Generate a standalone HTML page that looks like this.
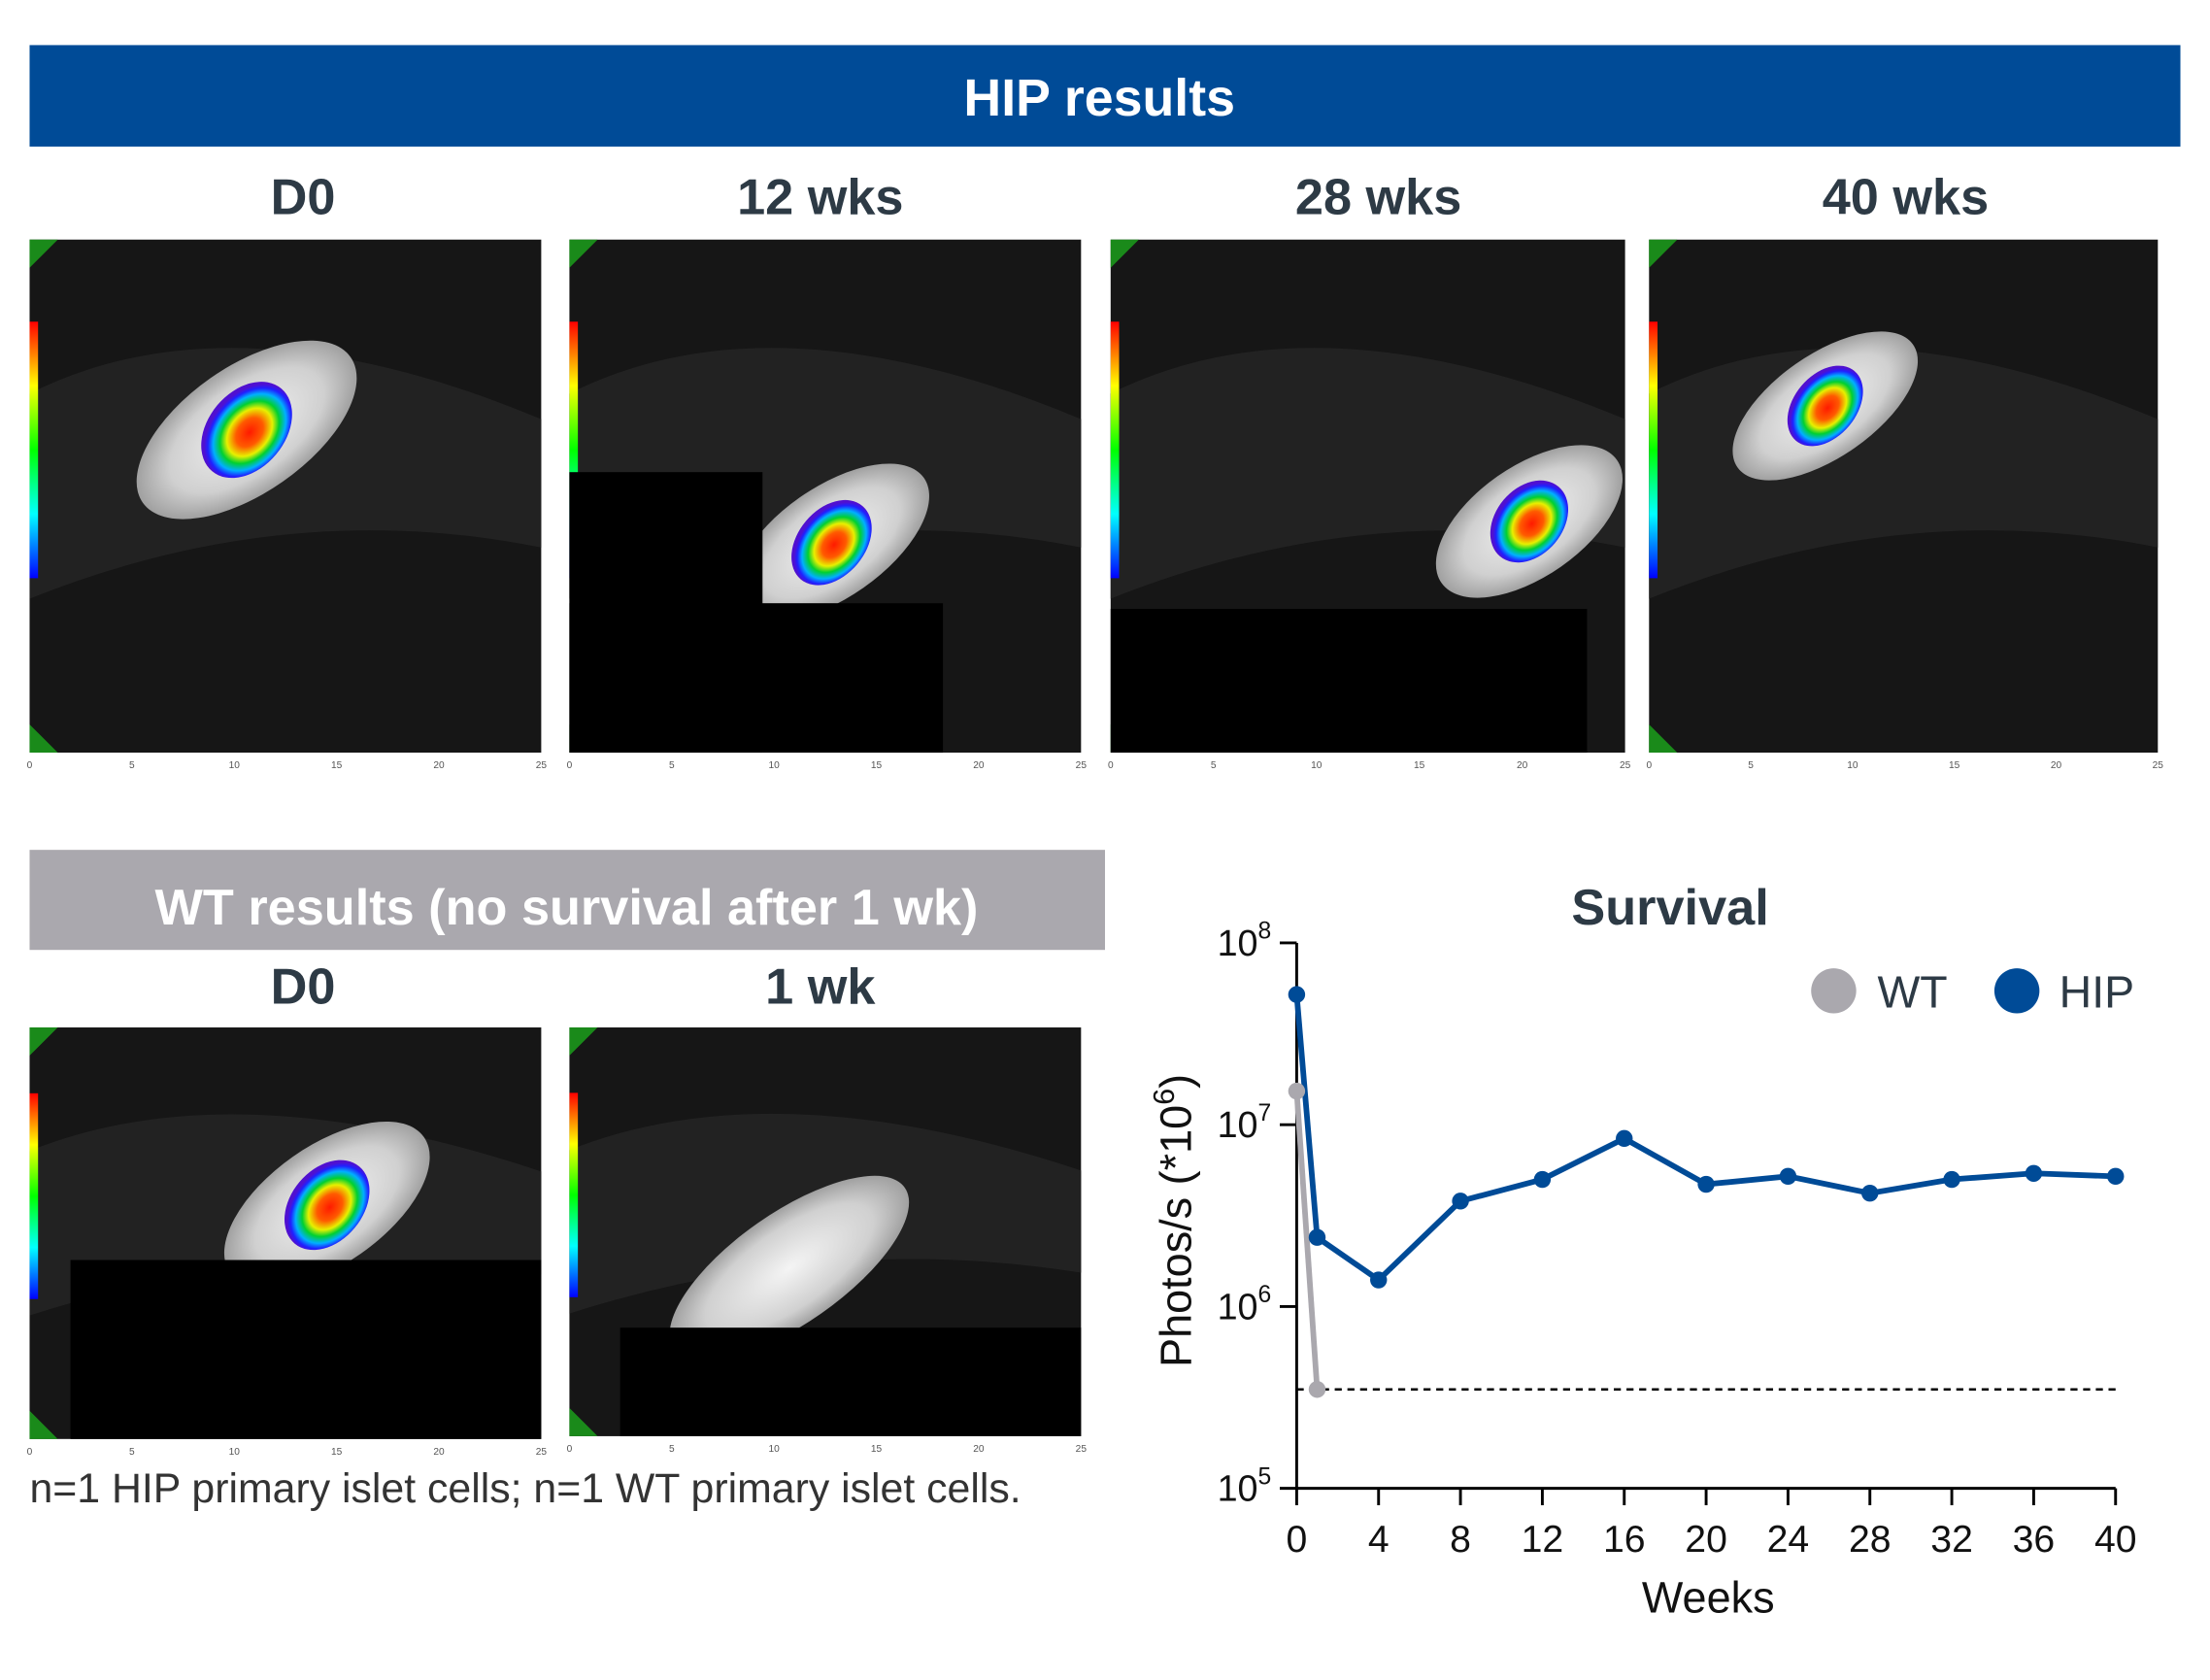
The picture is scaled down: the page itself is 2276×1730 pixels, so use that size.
<!DOCTYPE html>
<html><head><meta charset="utf-8"><style>
html,body{margin:0;padding:0;background:#fff;}
svg{display:block;font-family:"Liberation Sans",Arial,sans-serif;}
</style></head><body>
<svg id="fig" width="2276" height="1730" viewBox="0 0 1568 1192" preserveAspectRatio="none">
<defs>
<radialGradient id="heat" cx="50%" cy="55%" r="50%">
<stop offset="0" stop-color="#ff1a00"/><stop offset="0.3" stop-color="#ff5a00"/><stop offset="0.5" stop-color="#e8f000"/><stop offset="0.65" stop-color="#00d030"/><stop offset="0.8" stop-color="#00b0ff"/><stop offset="0.92" stop-color="#2020ff"/><stop offset="1" stop-color="#5010d0"/>
</radialGradient>
<linearGradient id="scale" x1="0" y1="0" x2="0" y2="1">
<stop offset="0" stop-color="#f00"/><stop offset="0.25" stop-color="#ff0"/><stop offset="0.5" stop-color="#0f0"/><stop offset="0.75" stop-color="#0ff"/><stop offset="1" stop-color="#00f"/>
</linearGradient>
<radialGradient id="skin" cx="50%" cy="50%" r="50%"><stop offset="0" stop-color="#f4f4f4"/><stop offset="0.7" stop-color="#d0d0d0"/><stop offset="1" stop-color="#a0a0a0"/></radialGradient>
</defs>

<rect x="21" y="32" width="1526" height="72" fill="#004b97"/>
<text x="780" y="82" text-anchor="middle" font-size="37" font-weight="bold" fill="#fff">HIP results</text>
<g font-size="36" font-weight="bold" fill="#2d3a45" text-anchor="middle">
<text x="215" y="152">D0</text>
<text x="582" y="152">12 wks</text>
<text x="978" y="152">28 wks</text>
<text x="1352" y="152">40 wks</text>
</g>

<g id="panels"></g>

<rect x="21" y="603" width="763" height="71" fill="#aaa8ae"/>
<text x="402" y="656" text-anchor="middle" font-size="36" font-weight="bold" fill="#fff">WT results (no survival after 1 wk)</text>
<g font-size="36" font-weight="bold" fill="#2d3a45" text-anchor="middle">
<text x="215" y="712">D0</text>
<text x="582" y="712">1 wk</text>
</g>
<text x="21" y="1066" font-size="29.5" fill="#333">n=1 HIP primary islet cells; n=1 WT primary islet cells.</text>

<text x="1185" y="656" text-anchor="middle" font-size="36" font-weight="bold" fill="#2d3a45">Survival</text>
<g id="chart"></g>
</svg>
<script>
const weeks = [0,1,4,8,12,16,20,24,28,32,36,40];
const hipValues = [5.2e7,2.4e6,1.4e6,3.8e6,5.0e6,8.4e6,4.7e6,5.2e6,4.2e6,5.0e6,5.4e6,5.2e6];
const wtWeeks = [0,1];
const wtValues = [1.53e7,3.5e5];
const detectionLimit = 3.5e5;
const xTicks = [0,4,8,12,16,20,24,28,32,36,40];
const yExps = [5,6,7,8];

const NS='http://www.w3.org/2000/svg';
function mk(tag,attrs,parent){const e=document.createElementNS(NS,tag);for(const k in attrs)e.setAttribute(k,attrs[k]);parent.appendChild(e);return e;}

const P=document.getElementById('panels');
function panel(x,y,w,h,name,blob,masks){
  const g=mk('g',{},P);
  
  
  mk('rect',{x:x,y:y,width:w,height:h,fill:'#161616'},g);
  mk('path',{d:`M${x} ${y+h*0.3} Q${x+w*0.4} ${y+h*0.1} ${x+w} ${y+h*0.35} L${x+w} ${y+h*0.6} Q${x+w*0.5} ${y+h*0.5} ${x} ${y+h*0.7}Z`,fill:'#222'},g);
  if(blob){
    mk('ellipse',{cx:blob[0],cy:blob[1],rx:blob[2]*2,ry:blob[3]*1.4,fill:'url(#skin)',transform:`rotate(-35 ${blob[0]} ${blob[1]})`},g);
    if(blob[4]) mk('ellipse',{cx:blob[0],cy:blob[1],rx:blob[2]*0.85,ry:blob[3]*0.85,fill:'url(#heat)',transform:`rotate(-50 ${blob[0]} ${blob[1]})`},g);
  }
  mk('polygon',{points:`${x},${y} ${x+20},${y} ${x},${y+20}`,fill:'#1a8a1a'},g);
  mk('polygon',{points:`${x},${y+h} ${x+20},${y+h} ${x},${y+h-20}`,fill:'#1a8a1a'},g);
  mk('rect',{x:x,y:y+h*0.16,width:6,height:h*0.5,fill:'url(#scale)'},g);
  (masks||[]).forEach(m=>mk('rect',{x:m[0],y:m[1],width:m[2],height:m[3],fill:'#000'},g));
  const ax=mk('g',{'font-size':7,fill:'#555'},g);
  [0,5,10,15,20,25].forEach((v,i)=>{const t=mk('text',{x:x+i*w/5,y:y+h+11,'text-anchor':'middle'},ax);t.textContent=v;});
}
panel(21,170,363,364,'hip-d0-image',[175,305,45,32,1]);
panel(404,170,363,364,'hip-12wks-image',[590,385,40,28,1],[[404,335,137,199],[404,428,265,106]]);
panel(788,170,365,364,'hip-28wks-image',[1085,370,38,28,1],[[788,432,338,102]]);
panel(1170,170,361,364,'hip-40wks-image',[1295,288,38,26,1]);
panel(21,729,363,292,'wt-d0-image',[232,855,42,30,1],[[50,894,334,127]]);
panel(404,729,363,290,'wt-1wk-image',[560,900,50,28,0],[[440,942,327,77]]);

const C=document.getElementById('chart');
const x0=920,x1=1501,yTop=669,yBot=1056;
const xs=v=>x0+(v-0)/(40-0)*(x1-x0);
const ys=v=>yBot-(Math.log10(v)-5)/(8-5)*(yBot-yTop);
const yAxis=mk('line',{x1:x0,y1:yTop,x2:x0,y2:yBot,stroke:'#000','stroke-width':2},C);


const xAxis=mk('line',{x1:x0,y1:yBot,x2:x1,y2:yBot,stroke:'#000','stroke-width':2},C);


xTicks.forEach(t=>{
  mk('line',{x1:xs(t),y1:yBot,x2:xs(t),y2:yBot+12,stroke:'#000','stroke-width':2},C);
  const tx=mk('text',{x:xs(t),y:yBot+45,'text-anchor':'middle','font-size':27,fill:'#111'},C);
  tx.textContent=t;
  
  
});
yExps.forEach(e=>{
  const y=ys(Math.pow(10,e));
  mk('line',{x1:x0-12,y1:y,x2:x0,y2:y,stroke:'#000','stroke-width':2},C);
  const tx=mk('text',{x:x0-18,y:y+9,'text-anchor':'end','font-size':26,fill:'#111'},C);
  tx.textContent='10';
  const sup=mk('tspan',{dy:-12,'font-size':17},tx);sup.textContent=e;
  
  
});
const dl=mk('line',{x1:x0,y1:ys(detectionLimit),x2:x1,y2:ys(detectionLimit),stroke:'#000','stroke-width':1.8,'stroke-dasharray':'5,4'},C);


const wl=mk('polyline',{points:wtWeeks.map((w,i)=>xs(w)+','+ys(wtValues[i])).join(' '),fill:'none',stroke:'#aaa8ae','stroke-width':4},C);


const hl=mk('polyline',{points:weeks.map((w,i)=>xs(w)+','+ys(hipValues[i])).join(' '),fill:'none',stroke:'#004b97','stroke-width':4},C);


wtWeeks.forEach((w,i)=>{const c=mk('circle',{cx:xs(w),cy:ys(wtValues[i]),r:6,fill:'#aaa8ae'},C);

});
weeks.forEach((w,i)=>{const c=mk('circle',{cx:xs(w),cy:ys(hipValues[i]),r:6,fill:'#004b97'},C);

});
const yt=mk('text',{x:0,y:0,'text-anchor':'middle','font-size':31,fill:'#111',transform:'translate(845 866) rotate(-90)'},C);
yt.textContent='Photos/s (*10';
const ysup=mk('tspan',{dy:-12,'font-size':21},yt);ysup.textContent='6';
const yend=mk('tspan',{dy:12},yt);yend.textContent=')';


const xt=mk('text',{x:1212,y:1144,'text-anchor':'middle','font-size':31,fill:'#111'},C);
xt.textContent='Weeks';


const lg=mk('g',{},C);


mk('circle',{cx:1301,cy:703,r:16,fill:'#aaa8ae'},lg);
const l1=mk('text',{x:1332,y:715,'font-size':32,fill:'#2d3a45'},lg);l1.textContent='WT';


mk('circle',{cx:1431,cy:703,r:16,fill:'#004b97'},lg);
const l2=mk('text',{x:1461,y:715,'font-size':32,fill:'#2d3a45'},lg);l2.textContent='HIP';


</script>
</body></html>
